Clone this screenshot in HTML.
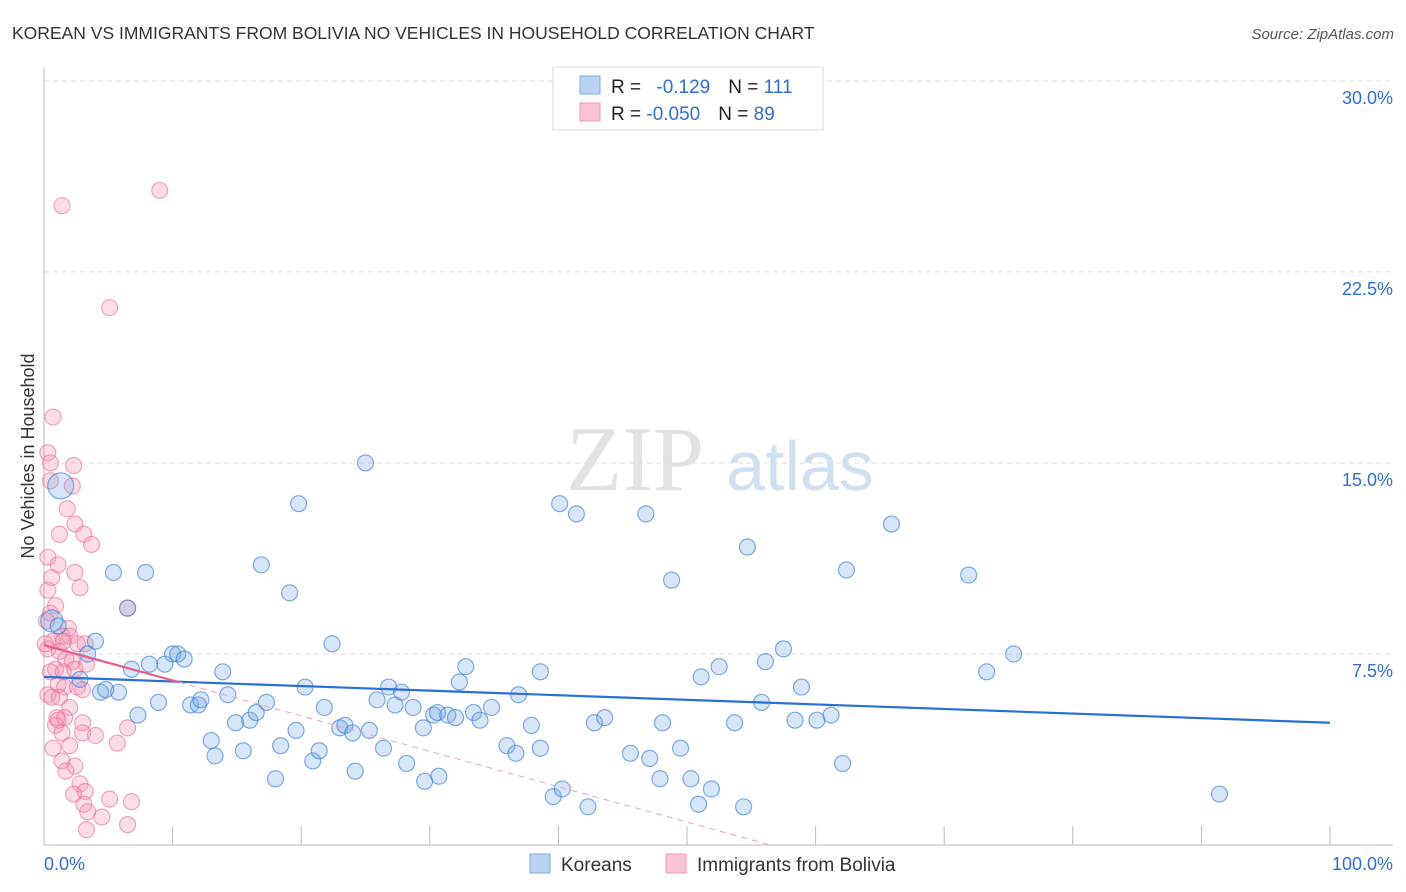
<!DOCTYPE html>
<html><head><meta charset="utf-8"><style>
body{margin:0;background:#fff;font-family:"Liberation Sans",sans-serif;}
#wrap{position:relative;width:1406px;height:892px;overflow:hidden}
</style></head><body>
<div id="wrap">
<svg id="svg" width="1406" height="892" xmlns="http://www.w3.org/2000/svg">
<text x="12" y="39" font-size="17.5" fill="#333">KOREAN VS IMMIGRANTS FROM BOLIVIA NO VEHICLES IN HOUSEHOLD CORRELATION CHART</text>
<text x="1394" y="39" font-size="15" fill="#555" font-style="italic" text-anchor="end">Source: ZipAtlas.com</text>
<g>
<text x="635" y="490" font-size="92" fill="#e2e2e2" font-family="Liberation Serif,serif" text-anchor="middle">ZIP</text>
<text x="800" y="490" font-size="70" fill="#cfe0f3" text-anchor="middle">atlas</text>
</g>
<text transform="translate(34,456) rotate(-90)" font-size="18" fill="#333" text-anchor="middle">No Vehicles in Household</text>
<g id="grid"></g><g id="axes"></g><g id="pts"></g><g id="trend"></g>
<g>
<rect x="553" y="67" width="270" height="63" fill="#fff" stroke="#ddd"/>
<rect x="580" y="76" width="20" height="18" fill="#b8d3f4" stroke="#7eaee8"/>
<rect x="580" y="103" width="20" height="18" fill="#f9c4d3" stroke="#f29ab5"/>
<text x="611" y="93" font-size="19" fill="#222">R = <tspan fill="#2f6fd1" dx="10">-0.129</tspan><tspan dx="18" fill="#222">N = </tspan><tspan fill="#2f6fd1">111</tspan></text>
<text x="611" y="120" font-size="19" fill="#222">R = <tspan fill="#2f6fd1">-0.050</tspan><tspan dx="18" fill="#222">N = </tspan><tspan fill="#2f6fd1">89</tspan></text>
</g>
<g>
<rect x="530" y="854" width="20" height="19" fill="#b8d3f4" stroke="#7eaee8"/>
<text x="561" y="871" font-size="19" fill="#333">Koreans</text>
<rect x="666" y="854" width="20" height="19" fill="#f9c4d3" stroke="#f29ab5"/>
<text x="697" y="871" font-size="19" fill="#333">Immigrants from Bolivia</text>
</g>
</svg>
</div>
<script>
const yTicks=[7.5,15,22.5,30];
const yTickLabels=["7.5%","15.0%","22.5%","30.0%"];
const xTicks=[0,10,20,30,40,50,60,70,80,90,100];
const koreansX=[1.3,0.6,1.1,4.0,3.4,2.8,5.4,7.9,6.5,4.4,5.8,4.8,6.8,8.2,9.4,10.0,10.4,10.9,8.9,7.3,11.4,12.0,12.2,13.0,13.3,13.9,14.3,14.9,15.5,16.0,16.5,17.3,16.9,18.0,18.4,19.1,19.6,19.8,20.3,20.9,21.4,21.8,22.4,23.0,23.4,24.0,24.2,25.0,25.3,25.9,26.8,26.4,27.3,27.8,28.2,28.7,29.6,29.5,30.3,30.7,30.6,31.4,32.0,32.3,32.8,33.4,33.9,34.8,36.0,36.7,36.9,37.9,38.6,38.6,39.6,40.3,40.1,41.4,42.3,42.8,43.6,45.6,46.8,47.1,48.1,47.9,48.8,49.5,50.3,51.1,50.9,51.9,52.5,53.7,54.4,54.7,55.8,56.1,57.5,58.4,58.9,60.1,61.2,62.1,62.4,65.9,71.9,73.3,75.4,91.4];
const koreansY=[14.1,8.8,8.6,8.0,7.5,6.5,10.7,10.7,9.3,6.0,6.0,6.1,6.9,7.1,7.1,7.5,7.5,7.3,5.6,5.1,5.5,5.5,5.7,4.1,3.5,6.8,5.9,4.8,3.7,4.9,5.2,5.6,11.0,2.6,3.9,9.9,4.5,13.4,6.2,3.3,3.7,5.4,7.9,4.6,4.7,4.4,2.9,15.0,4.5,5.7,6.2,3.8,5.5,6.0,3.2,5.4,2.5,4.6,5.1,2.7,5.2,5.1,5.0,6.4,7.0,5.2,4.9,5.4,3.9,3.6,5.9,4.7,3.8,6.8,1.9,2.2,13.4,13.0,1.5,4.8,5.0,3.6,13.0,3.4,4.8,2.6,10.4,3.8,2.6,6.6,1.6,2.2,7.0,4.8,1.5,11.7,5.6,7.2,7.7,4.9,6.2,4.9,5.1,3.2,10.8,12.6,10.6,6.8,7.5,2.0];
const boliviaX=[9.0,1.4,5.1,0.7,0.3,0.5,2.3,2.2,0.5,1.8,2.4,3.1,1.2,3.7,0.3,1.1,2.4,0.6,2.8,0.3,0.9,6.5,0.5,1.9,1.4,2.0,0.7,2.6,3.2,0.3,1.2,1.7,2.2,3.3,0.9,1.5,0.5,2.4,1.1,1.6,2.6,3.0,0.3,1.2,2.0,1.0,1.6,3.0,6.5,0.9,1.4,4.0,2.0,0.7,5.7,3.0,1.4,2.4,1.7,2.8,2.3,3.2,5.1,6.8,3.1,3.4,4.5,6.5,3.3,1.1,0.2,0.6,1.5,0.1];
const boliviaY=[25.7,25.1,21.1,16.8,15.4,15.0,14.9,14.1,14.3,13.2,12.6,12.2,12.2,11.8,11.3,11.0,10.7,10.5,10.1,10.0,9.4,9.3,9.1,8.5,8.2,8.2,8.0,7.9,7.9,7.7,7.6,7.3,7.2,7.1,6.9,6.8,6.8,6.9,6.3,6.2,6.2,6.1,5.9,5.8,5.4,5.0,5.0,4.8,4.6,4.7,4.4,4.3,3.9,3.8,4.0,4.4,3.3,3.1,2.9,2.4,2.0,2.1,1.8,1.7,1.6,1.3,1.1,0.8,0.6,4.9,8.8,5.8,8.0,7.9];
const koreansTrend=[6.6,4.8];
const boliviaTrend=[7.85,-0.139];
const NS="http://www.w3.org/2000/svg";
const X=v=>44+v*12.86, Y=v=>845-v*25.47;
function mk(t,a,p){const e=document.createElementNS(NS,t);for(const k in a)e.setAttribute(k,a[k]);p.appendChild(e);return e;}
const grid=document.getElementById('grid'),axes=document.getElementById('axes'),pts=document.getElementById('pts'),tr=document.getElementById('trend');
yTicks.forEach((t,i)=>{
 const l=mk('line',{x1:44,x2:1393,y1:Y(t),y2:Y(t),stroke:'#ddd','stroke-dasharray':'5,4'},grid);
 
 
 const tx=mk('text',{x:1393,y:Y(t)+23,'font-size':18,fill:'#2f6fd1','text-anchor':'end'},grid);
 tx.textContent=yTickLabels[i];
 
 
});
const ax=mk('line',{x1:44,x2:1393,y1:845,y2:845,stroke:'#bbb'},axes);


const ay=mk('line',{x1:44,x2:44,y1:68,y2:845,stroke:'#bbb'},axes);


xTicks.forEach(t=>{const l=mk('line',{x1:X(t),x2:X(t),y1:826,y2:845,stroke:'#bbb'},axes);
 
 });
const x0=mk('text',{x:44,y:870,'font-size':18,fill:'#2f6fd1'},axes);x0.textContent='0.0%';


const x1=mk('text',{x:1393,y:870,'font-size':18,fill:'#2f6fd1','text-anchor':'end'},axes);x1.textContent='100.0%';


boliviaX.forEach((v,i)=>{const c=mk('circle',{cx:X(v),cy:Y(boliviaY[i]),r:8,fill:'rgba(244,143,177,0.3)',stroke:'rgba(236,110,150,0.6)','stroke-width':1.2},pts);
 
 });
koreansX.forEach((v,i)=>{const c=mk('circle',{cx:X(v),cy:Y(koreansY[i]),r:i==0?13:(i==1?11:8),fill:'rgba(120,170,230,0.3)',stroke:'rgba(60,130,220,0.65)','stroke-width':1.2},pts);
 
 });
const kl=mk('line',{x1:X(0),y1:Y(koreansTrend[0]),x2:X(100),y2:Y(koreansTrend[1]),stroke:'#2a6fd6','stroke-width':2.2},tr);


const bs=mk('line',{x1:X(0),y1:Y(boliviaTrend[0]),x2:X(10.5),y2:Y(boliviaTrend[0]+boliviaTrend[1]*10.5),stroke:'#e8608a','stroke-width':2.2},tr);


const xe=-boliviaTrend[0]/boliviaTrend[1];
const bd=mk('line',{x1:X(10.5),y1:Y(boliviaTrend[0]+boliviaTrend[1]*10.5),x2:X(xe),y2:Y(0),stroke:'#f0a0b8','stroke-width':1,'stroke-dasharray':'6,5'},tr);


</script>
</body></html>
